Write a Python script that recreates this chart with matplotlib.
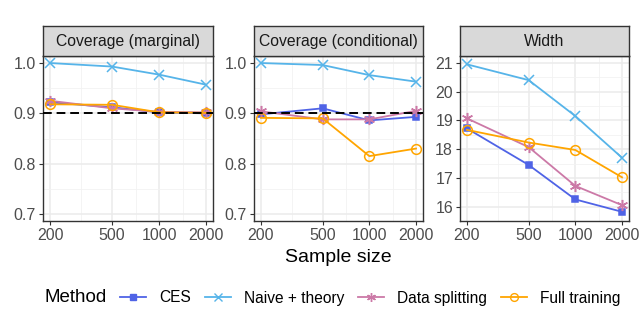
import matplotlib
matplotlib.use("Agg")
import matplotlib.pyplot as plt
import numpy as np
from matplotlib.lines import Line2D

plt.rcParams['font.family'] = ['Liberation Sans', 'DejaVu Sans']

sample_sizes = [200, 500, 1000, 2000]
methods = ["CES", "Naive + theory", "Data splitting", "Full training"]
panels = ["Coverage (marginal)", "Coverage (conditional)", "Width"]

cov_marginal = {
    "CES": [0.922, 0.912, 0.902, 0.900],
    "Naive + theory": [1.000, 0.993, 0.977, 0.957],
    "Data splitting": [0.925, 0.910, 0.903, 0.902],
    "Full training": [0.918, 0.917, 0.902, 0.901],
}
cov_conditional = {
    "CES": [0.898, 0.910, 0.886, 0.893],
    "Naive + theory": [1.000, 0.996, 0.976, 0.963],
    "Data splitting": [0.904, 0.888, 0.888, 0.905],
    "Full training": [0.891, 0.890, 0.815, 0.830],
}
width = {
    "CES": [18.72, 17.45, 16.25, 15.82],
    "Naive + theory": [20.95, 20.40, 19.15, 17.70],
    "Data splitting": [19.07, 18.07, 16.72, 16.05],
    "Full training": [18.67, 18.23, 17.97, 17.02],
}
data = [cov_marginal, cov_conditional, width]
nominal = 0.9

colors = {"CES": "#4F63E6", "Naive + theory": "#56B4E9",
          "Data splitting": "#CC79A7", "Full training": "#FFA500"}
markers = {"CES": "s", "Naive + theory": "x",
           "Data splitting": (6, 2, 0), "Full training": "o"}
mfc = {"CES": None, "Naive + theory": None, "Data splitting": None, "Full training": "none"}
msize = {"CES": 5, "Naive + theory": 7, "Data splitting": 8, "Full training": 7}

W, H = 640, 309
fig = plt.figure(figsize=(W / 100, H / 100), dpi=100)

def ax_rect(l, r, t, b):
    return [l / W, 1 - b / H, (r - l) / W, (b - t) / H]

lefts = [(43, 213), (254, 423), (460, 629)]
ptop, pbot = 56, 221
strip_top = 26

lx = np.log10(200); rx = np.log10(2000)
pad = (rx - lx) * 0.045
xlim = (10 ** (lx - pad), 10 ** (rx + pad))

for i, (l, r) in enumerate(lefts):
    ax = fig.add_axes(ax_rect(l, r, ptop, pbot))
    d = data[i]
    ax.set_xscale("log")
    ax.set_xlim(*xlim)
    if i < 2:
        ax.set_ylim(0.686, 1.014)
        ax.set_yticks([0.7, 0.8, 0.9, 1.0])
        ax.set_yticklabels(["0.7", "0.8", "0.9", "1.0"])
        ax.set_yticks([0.75, 0.85, 0.95], minor=True)
    else:
        ax.set_ylim(15.55, 21.24)
        ax.set_yticks([16, 17, 18, 19, 20, 21])
        ax.set_yticks([15.5, 16.5, 17.5, 18.5, 19.5, 20.5], minor=True)
    ax.set_xticks(sample_sizes)
    ax.set_xticklabels([str(s) for s in sample_sizes])
    mids = [10 ** ((np.log10(a) + np.log10(b)) / 2) for a, b in zip(sample_sizes[:-1], sample_sizes[1:])]
    ax.set_xticks(mids, minor=True)
    ax.xaxis.set_minor_formatter(matplotlib.ticker.NullFormatter())
    ax.grid(True, which="major", color="#EBEBEB", lw=1.1, zorder=0)
    ax.grid(True, which="minor", color="#F2F2F2", lw=0.6, zorder=0)
    ax.set_axisbelow(True)
    ax.tick_params(which="minor", length=0)
    ax.tick_params(which="major", length=3, color="#333333", width=0.8,
                   labelsize=11.5, labelcolor="#4D4D4D", pad=2)
    for s in ax.spines.values():
        s.set_color("#333333")
        s.set_linewidth(1.0)
    if i < 2:
        ax.axhline(nominal, color="black", ls=(0, (4.5, 2.5)), lw=1.4, zorder=4)
    for m in methods:
        ax.plot(sample_sizes, d[m], color=colors[m], marker=markers[m],
                markersize=msize[m], lw=1.3,
                markerfacecolor=(mfc[m] if mfc[m] else colors[m]),
                markeredgewidth=1.1, zorder=3)
    # strip
    sax = fig.add_axes(ax_rect(l, r, strip_top, ptop))
    sax.set_facecolor("#D9D9D9")
    sax.set_xticks([]); sax.set_yticks([])
    for s in sax.spines.values():
        s.set_color("#333333")
        s.set_linewidth(1.0)
    sax.text(0.5, 0.48, panels[i], ha="center", va="center", fontsize=11.3,
             color="#1A1A1A", transform=sax.transAxes)

fig.text(338 / W, 1 - 258 / H, "Sample size", ha="center", va="center", fontsize=14)

fig.text(45 / W, 1 - 298 / H, "Method", ha="left", va="center", fontsize=13.5)
handles = [Line2D([0], [0], color=colors[m], marker=markers[m], lw=1.3,
                  markersize=msize[m] * 0.8,
                  markerfacecolor=(mfc[m] if mfc[m] else colors[m]),
                  markeredgewidth=1.0) for m in methods]
fig.legend(handles, methods, loc="center left", bbox_to_anchor=(120 / W, 1 - 298 / H),
           ncol=4, frameon=False, fontsize=11.2, handlelength=1.7,
           handletextpad=0.8, columnspacing=0.9, borderpad=0, borderaxespad=0)

fig.savefig("out.png", dpi=100)
